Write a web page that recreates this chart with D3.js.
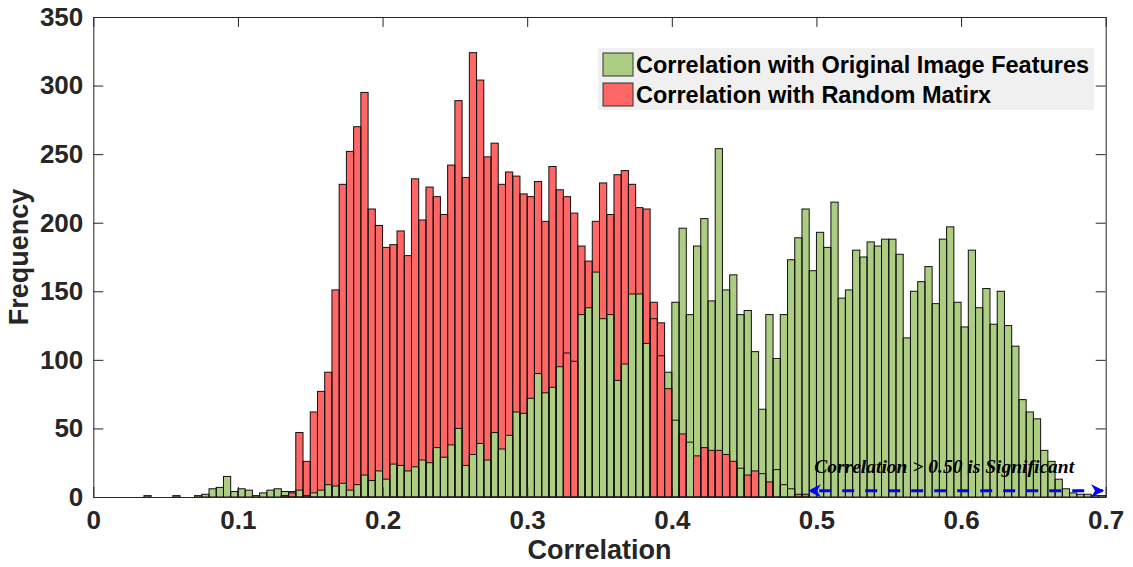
<!DOCTYPE html>
<html lang="en">
<head>
    <meta charset="utf-8">
    <title>Correlation histogram</title>
    <script src="https://d3js.org/d3.v7.min.js"></script>
    <style>
        body { margin: 0; background: #fff; }
        svg { display: block; }
        .axis text { font-family: "Liberation Sans", Arial, sans-serif; font-weight: bold; font-size: 26px; fill: #262626; }
        .axis path, .axis line { stroke: #262626; }
        .label { font-family: "Liberation Sans", Arial, sans-serif; font-weight: bold; font-size: 27px; fill: #262626; }
        .legend text { font-family: "Liberation Sans", Arial, sans-serif; font-weight: bold; font-size: 23.5px; fill: #000; }
        .note { font-family: "Liberation Serif", "Times New Roman", serif; font-weight: bold; font-style: italic; font-size: 19.5px; fill: #000; }
    </style>
</head>
<body>
<svg class="chart"></svg>
<script>
    'use strict';

    // histogram bins: 0 .. 0.7 in steps of 0.005
    var binWidth = 0.005;

    var originalCounts = [
        0, 0, 0, 0, 0, 0, 0, 1, 0, 0,
        0, 1, 0, 0, 1, 2, 6, 7, 15, 4,
        6, 5, 1, 3, 5, 6, 4, 4, 5, 1,
        3, 5, 9, 8, 10, 5, 9, 16, 12, 19,
        13, 24, 23, 19, 22, 27, 25, 36, 29, 38,
        50, 23, 31, 39, 27, 47, 35, 45, 62, 61,
        72, 90, 76, 80, 95, 105, 99, 133, 138, 164,
        130, 133, 85, 97, 148, 148, 112, 130, 103, 91,
        142, 196, 133, 183, 203, 143, 254, 151, 162, 133,
        136, 106, 64, 133, 101, 133, 173, 189, 210, 165,
        193, 182, 215, 145, 151, 180, 175, 186, 183, 188,
        188, 177, 116, 150, 157, 168, 141, 188, 197, 142,
        124, 180, 138, 152, 126, 150, 125, 110, 71, 62,
        57, 34, 26, 13, 6, 3, 2, 2, 1, 1
    ];

    var randomCounts = [
        0, 0, 0, 0, 0, 0, 0, 0, 0, 0,
        0, 0, 0, 0, 0, 0, 0, 0, 0, 0,
        0, 0, 0, 0, 0, 0, 1, 3, 47, 26,
        62, 77, 91, 151, 228, 252, 270, 295, 210, 198,
        182, 184, 194, 176, 232, 202, 226, 219, 206, 242,
        289, 233, 324, 304, 248, 258, 228, 237, 234, 221,
        219, 230, 201, 241, 224, 219, 207, 183, 172, 201,
        229, 206, 235, 238, 228, 211, 210, 142, 127, 79,
        56, 46, 40, 30, 36, 34, 34, 31, 26, 21,
        16, 19, 17, 11, 20, 9, 6, 2, 2, 0,
        0, 0, 0, 0, 0, 0, 0, 0, 0, 0,
        0, 0, 0, 0, 0, 0, 0, 0, 0, 0,
        0, 0, 0, 0, 0, 0, 0, 0, 0, 0,
        0, 0, 0, 0, 0, 0, 0, 0, 0, 0
    ];

    // bins where the taller face was rendered over the shorter one
    var tallerOnTop = [65, 66, 77, 78, 80, 82, 89, 92, 94, 95, 96];

    var xTicks = [0, 0.1, 0.2, 0.3, 0.4, 0.5, 0.6, 0.7];
    var yTicks = [0, 50, 100, 150, 200, 250, 300, 350];
    var seriesNames = ['Correlation with Original Image Features', 'Correlation with Random Matirx'];
    var seriesColors = ['#adcd83', '#ff6666'];

    var noteText = 'Correlation > 0.50 is Significant';
    var noteAt = [0.4985, 17.5];
    var arrowFrom = [0.495, 4.5];
    var arrowTo = [0.698, 4.5];

    var width = 1133, height = 567;
    var margin = {left: 93.3, right: 27.3, top: 17, bottom: 70};

    var svg = d3.select('.chart')
        .attr('width', width)
        .attr('height', height);

    svg.append('rect')
        .attr('width', width)
        .attr('height', height)
        .attr('fill', '#fff');

    var x = d3.scaleLinear()
        .domain([0, 0.7])
        .range([margin.left, width - margin.right]);

    var y = d3.scaleLinear()
        .domain([0, 350])
        .range([height - margin.bottom, margin.top]);

    // one rect per non-empty bin and series
    var bars = [];
    [originalCounts, randomCounts].forEach(function (counts, s) {
        counts.forEach(function (c, i) {
            if (c > 0) {
                bars.push({bin: i, x0: i * binWidth, x1: (i + 1) * binWidth, value: c, series: s});
            }
        });
    });

    // within a bin the shorter face is drawn last, apart from the listed bins
    function drawKey(d) {
        var flip = tallerOnTop.indexOf(d.bin) >= 0;
        return flip ? d.value : -d.value;
    }
    var fillOrder = bars.slice().sort(function (a, b) {
        return a.bin - b.bin || drawKey(a) - drawKey(b);
    });

    var barLayer = svg.append('g').attr('class', 'bars');

    barLayer.selectAll('.face')
        .data(fillOrder)
        .enter()
        .append('rect')
            .attr('class', 'face')
            .attr('x', function (d) { return x(d.x0); })
            .attr('width', function (d) { return x(d.x1) - x(d.x0); })
            .attr('y', function (d) { return y(d.value); })
            .attr('height', function (d) { return y(0) - y(d.value); })
            .attr('fill', function (d) { return seriesColors[d.series]; });

    // edges stay visible on top of every face
    barLayer.selectAll('.edge')
        .data(bars)
        .enter()
        .append('rect')
            .attr('class', 'edge')
            .attr('x', function (d) { return x(d.x0); })
            .attr('width', function (d) { return x(d.x1) - x(d.x0); })
            .attr('y', function (d) { return y(d.value); })
            .attr('height', function (d) { return y(0) - y(d.value); })
            .attr('fill', 'none')
            .attr('stroke', '#111')
            .attr('stroke-width', 1);

    // axes, ticks pointing inwards on all four sides
    var fmt = function (d) { return d; };

    svg.append('g')
        .attr('class', 'axis')
        .attr('transform', 'translate(0,' + y(0) + ')')
        .call(d3.axisBottom(x).tickValues(xTicks).tickFormat(fmt).tickSizeInner(-10).tickSizeOuter(0).tickPadding(14));

    svg.append('g')
        .attr('class', 'axis')
        .attr('transform', 'translate(0,' + y(350) + ')')
        .call(d3.axisTop(x).tickValues(xTicks).tickFormat('').tickSizeInner(-10).tickSizeOuter(0));

    svg.append('g')
        .attr('class', 'axis')
        .attr('transform', 'translate(' + x(0) + ',0)')
        .call(d3.axisLeft(y).tickValues(yTicks).tickFormat(fmt).tickSizeInner(-10).tickSizeOuter(0).tickPadding(10));

    svg.append('g')
        .attr('class', 'axis')
        .attr('transform', 'translate(' + x(0.7) + ',0)')
        .call(d3.axisRight(y).tickValues(yTicks).tickFormat('').tickSizeInner(-10).tickSizeOuter(0));

    svg.selectAll('.axis path').attr('stroke-width', 1);

    // axis titles
    svg.append('text')
        .attr('class', 'label')
        .attr('x', (x(0) + x(0.7)) / 2)
        .attr('y', 559)
        .attr('text-anchor', 'middle')
        .text('Correlation');

    svg.append('text')
        .attr('class', 'label')
        .attr('transform', 'translate(28,' + ((y(0) + y(350)) / 2) + ') rotate(-90)')
        .attr('text-anchor', 'middle')
        .text('Frequency');

    // legend
    var legend = svg.append('g')
        .attr('class', 'legend')
        .attr('transform', 'translate(598,48)');

    legend.append('rect')
        .attr('width', 496)
        .attr('height', 62)
        .attr('fill', '#f0f0f0');

    var items = legend.selectAll('.item')
        .data(seriesNames)
        .enter()
        .append('g')
            .attr('class', 'item')
            .attr('transform', function (d, i) { return 'translate(5,' + (5 + i * 30) + ')'; });

    items.append('rect')
        .attr('width', 30)
        .attr('height', 23)
        .attr('fill', function (d, i) { return seriesColors[i]; })
        .attr('stroke', '#333')
        .attr('stroke-width', 1);

    items.append('text')
        .attr('x', 33)
        .attr('y', 20)
        .text(function (d) { return d; });

    // significance annotation
    var defs = svg.append('defs');
    ['arrowEnd', 'arrowStart'].forEach(function (id) {
        defs.append('marker')
            .attr('id', id)
            .attr('viewBox', '0 0 10 10')
            .attr('refX', 9)
            .attr('refY', 5)
            .attr('markerUnits', 'userSpaceOnUse')
            .attr('markerWidth', 17)
            .attr('markerHeight', 13)
            .attr('orient', id === 'arrowEnd' ? 'auto' : 'auto-start-reverse')
            .append('path')
                .attr('d', 'M0,0 L10,5 L0,10 L3,5 Z')
                .attr('fill', '#0000ff');
    });

    svg.append('line')
        .attr('x1', x(arrowFrom[0]))
        .attr('y1', y(arrowFrom[1]))
        .attr('x2', x(arrowTo[0]))
        .attr('y2', y(arrowTo[1]))
        .attr('stroke', '#0000ff')
        .attr('stroke-width', 3)
        .attr('stroke-dasharray', '12,11')
        .attr('stroke-dashoffset', -10)
        .attr('marker-start', 'url(#arrowStart)')
        .attr('marker-end', 'url(#arrowEnd)');

    svg.append('text')
        .attr('class', 'note')
        .attr('x', x(noteAt[0]))
        .attr('y', y(noteAt[1]))
        .text(noteText);
</script>
</body>
</html>
